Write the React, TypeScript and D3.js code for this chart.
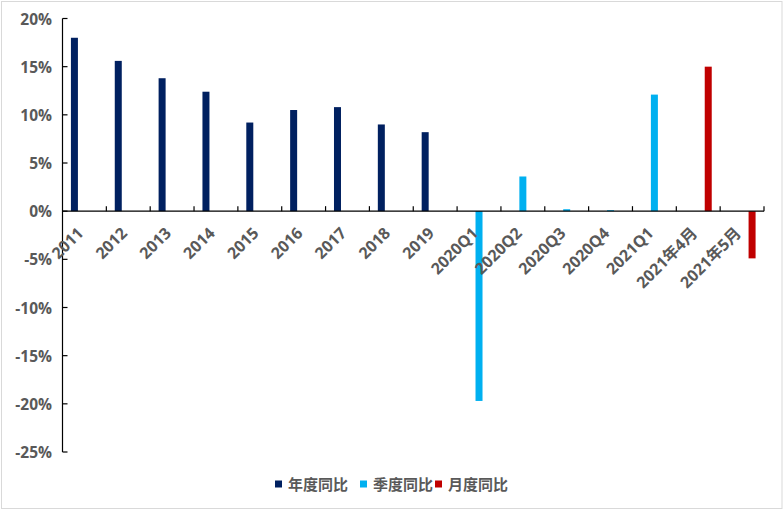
import React from "react";
import * as d3 from "d3";

const categories = [
  "2011", "2012", "2013", "2014", "2015", "2016", "2017", "2018", "2019",
  "2020Q1", "2020Q2", "2020Q3", "2020Q4", "2021Q1", "2021年4月", "2021年5月",
];
const seriesNames = ["年度同比", "季度同比", "月度同比"];
const yearValues: (number | null)[] = [18.0, 15.6, 13.8, 12.4, 9.2, 10.5, 10.8, 9.0, 8.2, null, null, null, null, null, null, null];
const quarterValues: (number | null)[] = [null, null, null, null, null, null, null, null, null, -19.7, 3.6, 0.2, 0.1, 12.1, null, null];
const monthValues: (number | null)[] = [null, null, null, null, null, null, null, null, null, null, null, null, null, null, 15.0, -4.9];
const yTicks = [20, 15, 10, 5, 0, -5, -10, -15, -20, -25];
const colors = ["#002060", "#00B0F0", "#C00000"];

const W = 783;
const H = 510;
const FONT = "'Open Sans', 'Noto Sans CJK SC', sans-serif";
const TEXT = "#595959";

export default function App() {
  const x = d3.scaleBand<string>().domain(categories).range([62.5, 764]).padding(0);
  const y = d3.scaleLinear().domain([-25, 20]).range([452, 18.5]);
  const bw = x.bandwidth();
  const x1 = d3
    .scaleBand<string>()
    .domain(seriesNames)
    .range([bw / 2 - 15, bw / 2 + 15])
    .paddingInner(0.3)
    .paddingOuter(0.15);
  const all = [yearValues, quarterValues, monthValues];
  const y0 = y(0);

  const legendX = [275, 360, 435];

  return (
    <svg
      width={W}
      height={H}
      style={{ position: "absolute", left: 0, top: 0, background: "#fff" }}
    >
      <rect x={1.5} y={1.5} width={780.5} height={507} fill="#fff" stroke="#d9d9d9" strokeWidth={1} />
      {/* bars */}
      {all.map((vals, si) =>
        vals.map((v, i) => {
          if (v === null) return null;
          const xx = (x(categories[i]) as number) + (x1(seriesNames[si]) as number);
          const top = Math.min(y(v), y0);
          const h = Math.abs(y(v) - y0);
          return <rect key={`${si}-${i}`} x={xx} y={top} width={x1.bandwidth()} height={h} fill={colors[si]} />;
        })
      )}
      {/* y axis */}
      <line x1={62.5} x2={62.5} y1={y(20)} y2={y(-25)} stroke="#000" strokeWidth={1.2} />
      {yTicks.map((t) => (
        <g key={t}>
          <line x1={62.5} x2={67.5} y1={y(t)} y2={y(t)} stroke="#000" strokeWidth={1.2} />
          <text
            x={52}
            y={y(t)}
            textAnchor="end"
            dominantBaseline="central"
            fontFamily={FONT}
            fontWeight="bold"
            fontSize={15.5}
            fill={TEXT}
          >
            {`${t}%`}
          </text>
        </g>
      ))}
      {/* x axis */}
      <line x1={62.5} x2={764} y1={y0} y2={y0} stroke="#000" strokeWidth={1.2} />
      {categories.map((c, i) => {
        const bx = (x(c) as number) + bw;
        return <line key={`t${i}`} x1={bx} x2={bx} y1={y0} y2={y0 - 5} stroke="#000" strokeWidth={1.2} />;
      })}
      {categories.map((c) => {
        const cx = (x(c) as number) + bw / 2;
        return (
          <text
            key={`l${c}`}
            transform={`translate(${cx},${y0 + 23}) rotate(-45)`}
            textAnchor="end"
            fontFamily={FONT}
            fontWeight="bold"
            fontSize={16}
            fill={TEXT}
          >
            {c}
          </text>
        );
      })}
      {/* legend */}
      {seriesNames.map((s, i) => (
        <g key={s}>
          <rect x={legendX[i]} y={480.5} width={7} height={7} fill={colors[i]} />
          <text
            x={legendX[i] + 13}
            y={484}
            dominantBaseline="central"
            fontFamily={FONT}
            fontWeight="bold"
            fontSize={15}
            fill={TEXT}
          >
            {s}
          </text>
        </g>
      ))}
    </svg>
  );
}
